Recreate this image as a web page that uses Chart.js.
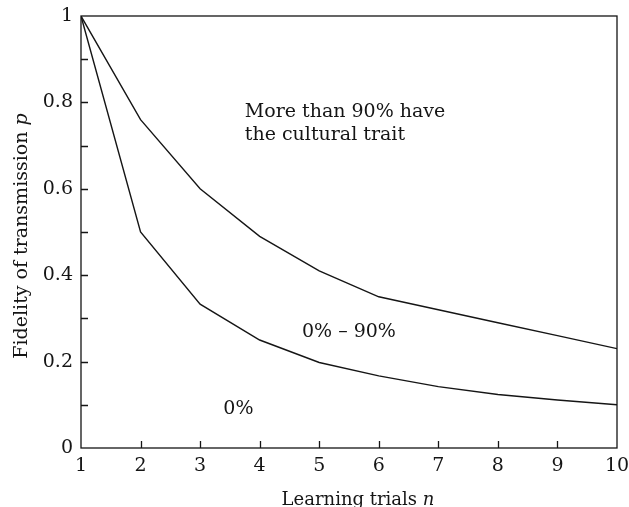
<!DOCTYPE html>
<html>
<head>
<meta charset="utf-8">
<script src="https://cdn.jsdelivr.net/npm/chart.js@4.4.1/dist/chart.umd.min.js"></script>
<style>
  html, body { margin: 0; padding: 0; background: #fff; }
  #wrap { width: 629px; height: 507px; position: relative; }
</style>
</head>
<body>
<div id="wrap"><canvas id="chart"></canvas></div>
<script>
  // values
  const trials = [1, 2, 3, 4, 5, 6, 7, 8, 9, 10];
  const upperBound = [1, 0.76, 0.60, 0.49, 0.41, 0.35, 0.32, 0.29, 0.26, 0.23];
  const lowerBound = [1, 0.50, 0.333, 0.25, 0.198, 0.167, 0.142, 0.124, 0.111, 0.10];
  const yMinorTicks = [0.1, 0.2, 0.3, 0.4, 0.5, 0.6, 0.7, 0.8, 0.9];
  const xTicks = [2, 3, 4, 5, 6, 7, 8, 9];

  // region labels, anchored in data space (x, baseline y)
  const regionLabels = [
    { lines: ['More than 90% have', 'the cultural trait'], x: 3.75, y: 0.767 },
    { lines: ['0% \u2013 90%'], x: 4.71, y: 0.256 },
    { lines: ['0%'], x: 3.39, y: 0.079 },
  ];

  const SERIF = '"DejaVu Serif", "Liberation Serif", serif';
  const FS = 19;
  const TITLE_FS = 18;
  const INK = '#151515';

  const toPoints = ys => trials.map((x, i) => ({ x, y: ys[i] }));

  // draws "text" followed by an italic symbol, centred on (cx, baseline)
  function mixedTitle(ctx, text, sym, cx, base, size) {
    ctx.font = `${size}px ${SERIF}`;
    const w1 = ctx.measureText(text).width;
    ctx.font = `italic ${size}px ${SERIF}`;
    const w2 = ctx.measureText(sym).width;
    const sx = cx - (w1 + w2) / 2;
    ctx.font = `${size}px ${SERIF}`;
    ctx.fillText(text, sx, base);
    ctx.font = `italic ${size}px ${SERIF}`;
    ctx.fillText(sym, sx + w1, base);
  }

  // frame, inward ticks, region text and axis titles
  const decorations = {
    id: 'decorations',
    afterDraw(chart) {
      const { ctx, chartArea: a, scales: { x, y } } = chart;
      ctx.save();
      ctx.strokeStyle = INK;
      ctx.lineWidth = 1.3;
      ctx.strokeRect(a.left, a.top, a.right - a.left, a.bottom - a.top);

      ctx.beginPath();
      xTicks.forEach(v => {
        const px = Math.round(x.getPixelForValue(v)) + 0.5;
        ctx.moveTo(px, a.bottom);
        ctx.lineTo(px, a.bottom - 7);
      });
      yMinorTicks.forEach(v => {
        const py = Math.round(y.getPixelForValue(v)) + 0.5;
        ctx.moveTo(a.left, py);
        ctx.lineTo(a.left + 7, py);
      });
      ctx.stroke();

      ctx.fillStyle = INK;
      ctx.font = `${FS}px ${SERIF}`;
      ctx.textBaseline = 'alphabetic';
      ctx.textAlign = 'left';
      regionLabels.forEach(l => {
        const px = x.getPixelForValue(l.x);
        const py = y.getPixelForValue(l.y);
        l.lines.forEach((t, i) => ctx.fillText(t, px, py + i * 23.5));
      });

      mixedTitle(ctx, 'Learning trials ', 'n', (a.left + a.right) / 2 + 9, 505, TITLE_FS);

      ctx.translate(27, (a.top + a.bottom) / 2 + 4);
      ctx.rotate(-Math.PI / 2);
      mixedTitle(ctx, 'Fidelity of transmission ', 'p', 0, 0, FS);
      ctx.restore();
    }
  };

  const lineStyle = { borderColor: INK, borderWidth: 1.4, pointRadius: 0, fill: false, tension: 0 };

  new Chart(document.getElementById('chart'), {
    type: 'line',
    data: {
      datasets: [
        { label: 'upper', data: toPoints(upperBound), ...lineStyle },
        { label: 'lower', data: toPoints(lowerBound), ...lineStyle },
      ],
    },
    options: {
      responsive: true,
      maintainAspectRatio: false,
      animation: false,
      events: [],
      layout: { padding: { top: 16, right: 12, left: 0, bottom: 0 } },
      plugins: { legend: { display: false }, tooltip: { enabled: false } },
      scales: {
        x: {
          type: 'linear',
          min: 1, max: 10,
          grid: { display: false, drawTicks: false },
          border: { display: false },
          ticks: { stepSize: 1, color: INK, padding: 7, font: { family: SERIF, size: FS } },
          afterFit: s => { s.height = 59; s.paddingLeft = 0; s.paddingRight = 0; },
        },
        y: {
          min: 0, max: 1,
          grid: { display: false, drawTicks: false },
          border: { display: false },
          ticks: {
            stepSize: 0.2, color: INK, padding: 8, font: { family: SERIF, size: FS },
            callback: v => String(Math.round(v * 10) / 10),
          },
          afterFit: s => { s.width = 81; s.paddingTop = 0; s.paddingBottom = 0; },
        },
      },
    },
    plugins: [decorations],
  });
</script>
</body>
</html>
